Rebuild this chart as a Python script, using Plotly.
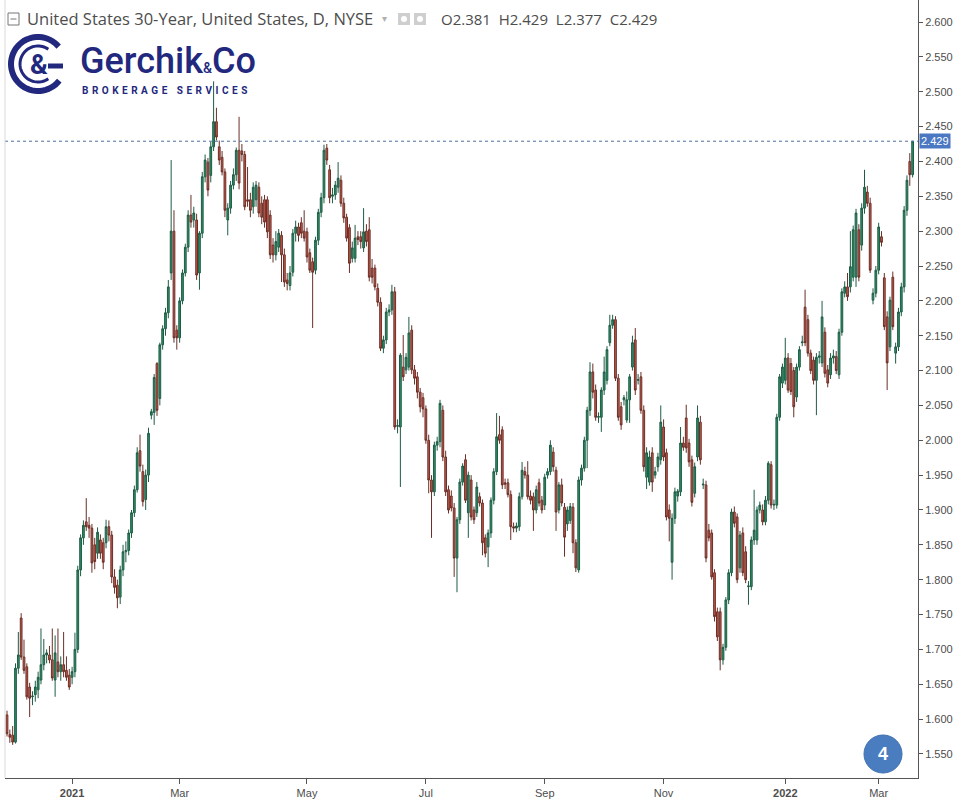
import math
import plotly.graph_objects as go

# ---------------- data (daily candles, US 30Y yield) ----------------
opens = [
    1.606,1.578,1.577,1.567,1.673,1.745,1.689,1.675,1.646,1.632,
    1.635,1.642,1.656,1.678,1.692,1.692,1.685,1.656,1.682,1.668,
    1.678,1.670,1.663,1.660,1.668,1.700,1.814,1.860,1.883,1.878,
    1.874,1.850,1.838,1.857,1.853,1.853,1.876,1.864,1.804,1.792,
    1.775,1.814,1.840,1.842,1.867,1.896,1.929,1.985,1.955,1.915,
    1.950,2.036,2.040,2.110,2.060,2.137,2.160,2.183,2.240,2.300,
    2.158,2.147,2.200,2.240,2.277,2.323,2.316,2.316,2.240,2.297,
    2.378,2.399,2.380,2.421,2.457,2.421,2.406,2.385,2.316,2.333,
    2.366,2.381,2.416,2.415,2.410,2.345,2.345,2.335,2.345,2.363,
    2.340,2.345,2.345,2.323,2.280,2.266,2.277,2.294,2.266,2.230,
    2.222,2.241,2.297,2.306,2.312,2.300,2.299,2.269,2.256,2.244,
    2.287,2.327,2.348,2.419,2.388,2.350,2.352,2.363,2.373,2.340,
    2.320,2.305,2.261,2.261,2.292,2.292,2.276,2.300,2.302,2.247,
    2.247,2.218,2.198,2.132,2.144,2.184,2.187,2.213,2.020,2.019,
    2.105,2.101,2.105,2.158,2.101,2.091,2.069,2.061,2.045,2.000,
    1.943,1.926,1.993,1.998,2.043,1.976,1.929,1.920,1.903,1.831,
    1.886,1.940,1.972,1.896,1.943,1.900,1.896,1.919,1.910,1.860,
    1.847,1.867,1.914,1.955,2.008,2.015,1.939,1.939,1.922,1.876,
    1.874,1.876,1.919,1.955,1.950,1.920,1.919,1.900,1.939,1.914,
    1.907,1.950,1.955,1.983,1.957,1.900,1.936,1.904,1.880,1.885,
    1.904,1.853,1.814,1.943,1.960,2.000,2.043,2.098,2.072,2.033,
    2.033,2.072,2.086,2.140,2.165,2.173,2.089,2.048,2.058,2.029,
    2.058,2.105,2.144,2.086,2.091,2.043,1.947,1.940,1.982,1.950,
    1.962,1.972,2.019,1.982,1.900,1.825,1.888,1.920,1.926,1.996,
    2.032,1.996,1.972,1.924,1.976,2.026,1.936,1.936,1.871,1.867,
    1.810,1.754,1.754,1.685,1.703,1.771,1.810,1.897,1.890,1.817,
    1.867,1.840,1.790,1.790,1.857,1.857,1.900,1.900,1.883,1.914,
    1.965,1.907,1.907,2.033,2.082,2.086,2.118,2.110,2.100,2.062,
    2.105,2.140,2.191,2.173,2.125,2.115,2.086,2.119,2.111,2.155,
    2.101,2.094,2.118,2.120,2.094,2.155,2.211,2.220,2.220,2.234,
    2.234,2.302,2.280,2.333,2.356,2.340,2.201,2.211,2.244,2.292,
    2.233,2.177,2.134,2.234,2.125,2.134,2.184,2.220,2.330,2.400,2.381,
]
highs = [
    1.612,1.585,1.590,1.680,1.725,1.752,1.714,1.680,1.652,1.640,
    1.655,1.668,1.730,1.715,1.700,1.705,1.730,1.720,1.730,1.690,
    1.725,1.690,1.672,1.675,1.724,1.820,1.865,1.885,1.917,1.890,
    1.880,1.860,1.875,1.865,1.860,1.886,1.885,1.870,1.815,1.800,
    1.820,1.850,1.855,1.872,1.900,1.935,1.990,2.008,1.965,1.958,
    2.018,2.045,2.095,2.112,2.140,2.165,2.190,2.230,2.402,2.330,
    2.165,2.205,2.245,2.282,2.330,2.352,2.335,2.325,2.300,2.385,
    2.410,2.405,2.428,2.515,2.477,2.430,2.415,2.390,2.340,2.372,
    2.390,2.420,2.464,2.425,2.415,2.392,2.355,2.370,2.372,2.370,
    2.350,2.352,2.350,2.330,2.290,2.300,2.303,2.300,2.275,2.240,
    2.250,2.303,2.315,2.312,2.320,2.330,2.305,2.275,2.262,2.292,
    2.332,2.355,2.424,2.425,2.395,2.362,2.372,2.399,2.380,2.348,
    2.325,2.310,2.285,2.309,2.300,2.300,2.333,2.310,2.320,2.260,
    2.252,2.225,2.205,2.150,2.190,2.195,2.223,2.220,2.030,2.125,
    2.151,2.125,2.177,2.165,2.108,2.098,2.075,2.068,2.050,2.008,
    1.950,1.998,2.005,2.058,2.050,1.985,1.935,1.928,1.910,1.890,
    1.945,1.967,1.980,1.955,1.950,1.905,1.940,1.925,1.915,1.865,
    1.872,1.918,1.960,2.039,2.035,2.020,1.945,1.945,1.928,1.882,
    1.882,1.925,1.969,1.962,1.970,1.928,1.925,1.935,1.945,1.920,
    1.952,1.960,2.000,1.990,1.962,1.940,1.945,1.910,1.905,1.910,
    1.910,1.858,1.948,1.965,2.005,2.048,2.112,2.110,2.080,2.040,
    2.076,2.120,2.135,2.180,2.180,2.178,2.095,2.055,2.065,2.070,
    2.095,2.150,2.161,2.095,2.098,2.050,1.990,1.985,1.990,1.962,
    1.982,2.050,2.030,1.988,1.908,1.895,1.932,1.930,2.019,2.005,
    2.051,2.002,1.978,1.968,2.050,2.035,1.945,1.942,1.880,1.872,
    1.815,1.760,1.760,1.708,1.775,1.815,1.902,1.905,1.895,1.870,
    1.875,1.848,1.798,1.862,1.929,1.905,1.912,1.908,1.920,1.970,
    1.970,1.915,2.038,2.095,2.110,2.147,2.125,2.118,2.105,2.110,
    2.135,2.150,2.216,2.180,2.130,2.120,2.125,2.128,2.200,2.162,
    2.108,2.125,2.130,2.128,2.160,2.218,2.228,2.240,2.300,2.308,
    2.332,2.310,2.340,2.388,2.365,2.348,2.218,2.250,2.312,2.300,
    2.240,2.185,2.206,2.242,2.140,2.190,2.226,2.336,2.380,2.412,2.429,
]
lows = [
    1.575,1.566,1.563,1.565,1.665,1.685,1.665,1.628,1.603,1.620,
    1.625,1.630,1.650,1.670,1.680,1.680,1.655,1.632,1.660,1.655,
    1.660,1.655,1.642,1.650,1.660,1.695,1.805,1.850,1.870,1.860,
    1.810,1.815,1.830,1.830,1.815,1.845,1.855,1.795,1.780,1.759,
    1.765,1.805,1.825,1.835,1.860,1.890,1.925,1.955,1.905,1.900,
    1.940,2.030,2.022,2.035,2.050,2.130,2.150,2.175,2.230,2.140,
    2.130,2.140,2.195,2.235,2.270,2.305,2.305,2.230,2.216,2.290,
    2.370,2.350,2.370,2.415,2.430,2.395,2.380,2.320,2.294,2.325,
    2.360,2.372,2.360,2.400,2.330,2.335,2.320,2.325,2.335,2.320,
    2.310,2.305,2.290,2.260,2.255,2.258,2.270,2.227,2.220,2.215,
    2.215,2.235,2.285,2.285,2.290,2.285,2.255,2.240,2.161,2.238,
    2.280,2.320,2.340,2.395,2.340,2.340,2.345,2.355,2.335,2.312,
    2.285,2.240,2.255,2.255,2.280,2.275,2.270,2.278,2.228,2.225,
    2.215,2.192,2.128,2.125,2.138,2.178,2.180,2.015,2.010,1.933,
    2.085,2.095,2.100,2.095,2.080,2.060,2.040,2.033,1.995,1.924,
    1.860,1.920,1.985,1.990,1.970,1.920,1.895,1.898,1.804,1.782,
    1.880,1.935,1.910,1.860,1.885,1.880,1.890,1.905,1.835,1.832,
    1.818,1.860,1.908,1.950,1.995,1.930,1.930,1.918,1.857,1.868,
    1.868,1.870,1.915,1.945,1.915,1.908,1.870,1.895,1.905,1.895,
    1.900,1.945,1.950,1.955,1.870,1.895,1.905,1.833,1.870,1.880,
    1.838,1.811,1.810,1.935,1.955,1.960,2.035,2.060,2.028,2.025,
    2.012,2.065,2.080,2.135,2.160,2.085,2.028,2.015,2.050,2.025,
    2.025,2.100,2.065,2.080,2.038,1.955,1.930,1.935,1.926,1.945,
    1.955,1.965,1.970,1.885,1.855,1.800,1.880,1.912,1.920,1.985,
    1.982,1.962,1.905,1.918,1.970,1.965,1.930,1.825,1.855,1.800,
    1.740,1.712,1.670,1.678,1.698,1.765,1.805,1.875,1.795,1.810,
    1.805,1.795,1.764,1.785,1.850,1.850,1.895,1.878,1.878,1.908,
    1.902,1.900,1.902,2.028,2.075,2.080,2.068,2.065,2.033,2.055,
    2.100,2.135,2.135,2.120,2.095,2.080,2.036,2.110,2.105,2.090,
    2.076,2.088,2.110,2.095,2.088,2.150,2.205,2.200,2.212,2.228,
    2.220,2.228,2.272,2.325,2.335,2.240,2.195,2.205,2.238,2.278,
    2.158,2.072,2.128,2.158,2.110,2.128,2.178,2.212,2.322,2.365,2.377,
]
closes = [
    1.579,1.574,1.567,1.673,1.692,1.689,1.670,1.632,1.630,1.633,
    1.646,1.660,1.678,1.692,1.695,1.685,1.659,1.695,1.668,1.678,
    1.668,1.660,1.646,1.668,1.700,1.814,1.860,1.878,1.876,1.874,
    1.824,1.826,1.868,1.838,1.825,1.876,1.864,1.804,1.789,1.774,
    1.814,1.840,1.842,1.867,1.896,1.929,1.982,1.963,1.912,1.950,
    2.010,2.041,2.090,2.043,2.137,2.160,2.183,2.220,2.300,2.147,
    2.147,2.200,2.240,2.277,2.323,2.313,2.326,2.237,2.297,2.378,
    2.402,2.359,2.421,2.457,2.435,2.402,2.385,2.330,2.333,2.366,
    2.381,2.416,2.369,2.410,2.335,2.343,2.330,2.363,2.366,2.326,
    2.320,2.313,2.299,2.266,2.266,2.285,2.297,2.266,2.227,2.225,
    2.240,2.297,2.306,2.294,2.297,2.290,2.263,2.244,2.241,2.287,
    2.327,2.348,2.416,2.402,2.348,2.352,2.366,2.376,2.340,2.319,
    2.290,2.254,2.276,2.290,2.288,2.285,2.299,2.285,2.234,2.234,
    2.220,2.198,2.132,2.144,2.184,2.187,2.213,2.019,2.021,2.122,
    2.091,2.119,2.154,2.101,2.089,2.069,2.048,2.045,2.000,1.943,
    1.926,1.993,1.998,2.053,1.976,1.926,1.900,1.903,1.831,1.886,
    1.940,1.963,1.914,1.950,1.890,1.886,1.933,1.910,1.853,1.838,
    1.867,1.914,1.955,2.005,2.000,1.936,1.937,1.922,1.876,1.874,
    1.877,1.919,1.957,1.950,1.919,1.914,1.900,1.929,1.910,1.900,
    1.947,1.955,1.993,1.962,1.897,1.936,1.910,1.861,1.900,1.905,
    1.853,1.817,1.943,1.960,2.000,2.043,2.098,2.069,2.033,2.034,
    2.072,2.098,2.130,2.165,2.173,2.089,2.033,2.022,2.061,2.058,
    2.091,2.140,2.072,2.087,2.043,1.962,1.982,1.976,1.940,1.955,
    1.976,2.026,1.976,1.890,1.888,1.888,1.926,1.927,1.996,1.990,
    1.989,1.969,1.911,1.962,2.032,1.972,1.937,1.831,1.860,1.804,
    1.747,1.718,1.685,1.703,1.771,1.810,1.897,1.881,1.800,1.864,
    1.810,1.800,1.791,1.857,1.871,1.900,1.907,1.883,1.914,1.967,
    1.907,1.908,2.033,2.091,2.105,2.118,2.072,2.070,2.048,2.105,
    2.130,2.141,2.140,2.125,2.100,2.086,2.119,2.121,2.177,2.096,
    2.082,2.118,2.121,2.100,2.155,2.213,2.220,2.206,2.249,2.302,
    2.326,2.234,2.333,2.363,2.340,2.244,2.211,2.244,2.306,2.284,
    2.163,2.111,2.201,2.163,2.134,2.184,2.220,2.330,2.373,2.381,2.429,
]

# x-axis month labels (bar index where each period starts)
month_tick_bars = [23, 61, 106, 148, 190, 232, 275, 308]
month_tick_labels = ["<b>2021</b>", "Mar", "May", "Jul", "Sep", "Nov", "<b>2022</b>", "Mar"]

# y-axis tick labels
y_ticks = [1.55, 1.60, 1.65, 1.70, 1.75, 1.80, 1.85, 1.90, 1.95, 2.00, 2.05,
           2.10, 2.15, 2.20, 2.25, 2.30, 2.35, 2.40, 2.45, 2.50, 2.55, 2.60]

title_text = "United States 30-Year, United States, D, NYSE"
tagline = "BROKERAGE SERVICES"

# ---------------- layout helpers ----------------
W, H = 962, 804
ML, MR, MT, MB = 5, 44, 0, 26
PW, PH = W - ML - MR, H - MT - MB


def px(x):
    return (x - ML) / PW


def py(y):
    return (PH - (y - MT)) / PH


def arc_path(cx, cy, r, a0, a1, n=48):
    pts = []
    for k in range(n + 1):
        a = math.radians(a0 + (a1 - a0) * k / n)
        pts.append(f"{px(cx + r * math.cos(a)):.5f},{py(cy - r * math.sin(a)):.5f}")
    return "M " + " L ".join(pts)


bars = list(range(len(closes)))

fig = go.Figure()
fig.add_trace(go.Candlestick(
    x=bars, open=opens, high=highs, low=lows, close=closes,
    increasing=dict(line=dict(color="#1f5c45", width=1), fillcolor="#2b9066"),
    decreasing=dict(line=dict(color="#6a2f27", width=1), fillcolor="#c8574a"),
    whiskerwidth=0, hoverinfo="skip", showlegend=False,
))

NAVY = "#22287d"
GRAY = "#4d4d4d"
last_o, last_h, last_l, last_c = opens[-1], highs[-1], lows[-1], closes[-1]

shapes = [
    dict(type="line", xref="paper", yref="y", x0=0, x1=1, y0=last_c, y1=last_c,
         line=dict(color="#50709f", width=1, dash="dot"), layer="above"),
    dict(type="line", xref="paper", yref="paper", x0=0, x1=0, y0=0, y1=1,
         line=dict(color="#d9d9d9", width=1)),
    dict(type="rect", xref="paper", yref="paper", x0=px(8), x1=px(19), y0=py(25), y1=py(13),
         line=dict(color="#777777", width=1)),
    dict(type="line", xref="paper", yref="paper", x0=px(10.5), x1=px(16.5), y0=py(19), y1=py(19),
         line=dict(color="#777777", width=1)),
    dict(type="rect", xref="paper", yref="paper", x0=px(398), x1=px(410), y0=py(25), y1=py(13),
         fillcolor="#cfcfcf", line=dict(width=0)),
    dict(type="circle", xref="paper", yref="paper", x0=px(401), x1=px(407), y0=py(22), y1=py(16),
         fillcolor="white", line=dict(color="#cfcfcf", width=0)),
    dict(type="rect", xref="paper", yref="paper", x0=px(414), x1=px(426), y0=py(25), y1=py(13),
         fillcolor="#cfcfcf", line=dict(width=0)),
    dict(type="circle", xref="paper", yref="paper", x0=px(417), x1=px(423), y0=py(22), y1=py(16),
         fillcolor="white", line=dict(color="#cfcfcf", width=0)),
    dict(type="path", xref="paper", yref="paper", path=arc_path(38, 64, 27, 40, 322),
         line=dict(color=NAVY, width=6)),
    dict(type="line", xref="paper", yref="paper", x0=px(48), x1=px(63), y0=py(66), y1=py(66),
         line=dict(color=NAVY, width=5)),
    dict(type="path", xref="paper", yref="paper", path=arc_path(38, 64, 18, 55, 305),
         line=dict(color=NAVY, width=3)),
    dict(type="circle", xref="paper", yref="paper", x0=px(864), x1=px(902), y0=py(773), y1=py(735),
         fillcolor="#4a7cc0", line=dict(color="#3f6fb0", width=1)),
]

annotations = [
    dict(text=title_text, xref="paper", yref="paper", x=px(25), y=py(19),
         xanchor="left", yanchor="middle", showarrow=False,
         font=dict(family="Open Sans", size=16.5, color=GRAY)),
    dict(text="▾", xref="paper", yref="paper", x=px(380), y=py(19),
         xanchor="left", yanchor="middle", showarrow=False,
         font=dict(family="DejaVu Sans", size=10, color="#b0b0b0")),
    dict(text=f"O{last_o:.3f}\u00a0\u00a0H{last_h:.3f}\u00a0\u00a0L{last_l:.3f}\u00a0\u00a0C{last_c:.3f}",
         xref="paper", yref="paper", x=px(439), y=py(19),
         xanchor="left", yanchor="middle", showarrow=False,
         font=dict(family="Open Sans", size=15, color=GRAY)),
    dict(text="&amp;", xref="paper", yref="paper", x=px(39), y=py(65),
         xanchor="center", yanchor="middle", showarrow=False,
         font=dict(family="Roboto", size=27, color=NAVY, weight="bold")),
    dict(text="Gerchik<span style='font-size:14px'>&amp;</span>Co", xref="paper", yref="paper",
         x=px(78), y=py(61), xanchor="left", yanchor="middle", showarrow=False,
         font=dict(family="Roboto", size=36, color=NAVY, weight=500)),
    dict(text="\u00a0\u200a".join(tagline), xref="paper", yref="paper",
         x=px(80), y=py(91), xanchor="left", yanchor="middle", showarrow=False,
         font=dict(family="Roboto", size=10, color=NAVY, weight="bold")),
    dict(text=f"{last_c:.3f}", xref="paper", yref="y", x=1, y=last_c,
         xanchor="left", yanchor="middle", showarrow=False, xshift=1,
         bgcolor="#4a78c2", borderpad=1,
         font=dict(family="Liberation Sans", size=11, color="white")),
    dict(text="<b>4</b>", xref="paper", yref="paper", x=px(883), y=py(754),
         xanchor="center", yanchor="middle", showarrow=False,
         font=dict(family="Liberation Sans", size=18, color="white")),
]

fig.update_layout(
    width=W, height=H,
    margin=dict(l=ML, r=MR, t=MT, b=MB),
    paper_bgcolor="white", plot_bgcolor="white",
    showlegend=False, boxgap=0.12,
    shapes=shapes, annotations=annotations,
    font=dict(family="Liberation Sans", size=11, color=GRAY),
    xaxis=dict(
        range=[-0.71, 321.9], tickvals=month_tick_bars, ticktext=month_tick_labels,
        showgrid=False, zeroline=False, showline=True, linecolor="#555555", linewidth=1,
        ticks="outside", ticklen=5, tickcolor="#555555",
        tickfont=dict(family="Liberation Sans", size=11, color=GRAY),
        rangeslider=dict(visible=False), fixedrange=True,
    ),
    yaxis=dict(
        side="right", range=[1.5155, 2.6316], tickvals=y_ticks,
        ticktext=[f"{v:.3f}" for v in y_ticks],
        showgrid=False, zeroline=False, showline=True, linecolor="#555555", linewidth=1,
        ticks="outside", ticklen=4, tickcolor="#555555",
        tickfont=dict(family="Liberation Sans", size=11, color=GRAY), fixedrange=True,
    ),
)

fig.write_html("out.html", config={"displayModeBar": False},
               post_script="document.body.style.margin='0px';")
